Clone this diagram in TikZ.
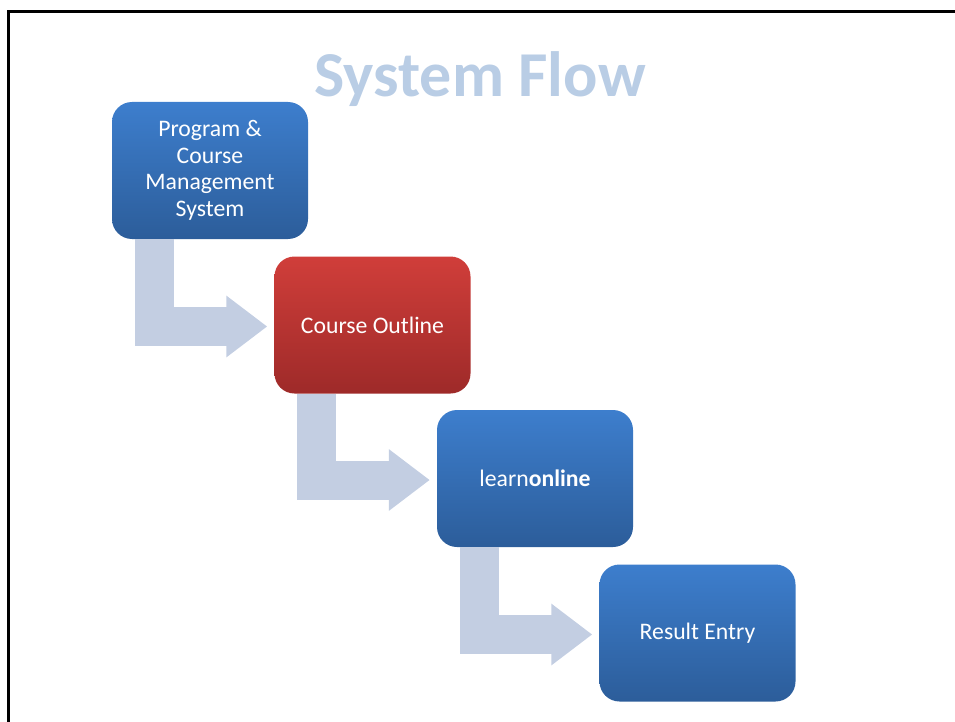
\documentclass[tikz,border=0pt]{standalone}
\usepackage{fontspec}
\setmainfont{Carlito}
\usetikzlibrary{arrows.meta,calc}
\definecolor{boxtop}{RGB}{61,126,205}
\definecolor{boxbot}{RGB}{44,93,154}
\definecolor{redtop}{RGB}{208,62,58}
\definecolor{redbot}{RGB}{158,42,41}
\definecolor{flowgray}{RGB}{195,206,226}
\definecolor{titleblue}{RGB}{185,205,229}
\begin{document}
\begin{tikzpicture}[x=1pt, y=-1pt,
  stage/.style={rectangle, rounded corners=20pt, minimum width=196pt, minimum height=137pt, inner sep=0pt, align=center, text=white, font=\fontsize{23.7}{26.5}\selectfont, top color=boxtop, bottom color=boxbot},
  hotstage/.style={stage, top color=redtop, bottom color=redbot},
  flow/.style={draw=flowgray, line width=39pt, -{Triangle[length=41pt, width=59pt]}}]
\useasboundingbox (0,0) rectangle (955,722);
\draw[line width=3pt] (8.5,722) -- (8.5,12) -- (955,12);
\node[anchor=base, text=titleblue, font=\fontsize{64}{72}\bfseries] (title) at (480,97){System Flow};
\node[stage] (pcms) at (210,170.5){Program \&\\Course\\Management\\System};
\node[hotstage] (outline) at (372.5,325){Course Outline};
\node[stage] (learn) at (535,478.5){learn\textbf{online}};
\node[stage] (result) at (697.5,633){Result Entry};
\draw[flow] ($(pcms.south west)+(42.5,0)$) |- ($(outline.west)+(-7,1.5)$);
\draw[flow] ($(outline.south west)+(42.5,0)$) |- ($(learn.west)+(-7,1.5)$);
\draw[flow] ($(learn.south west)+(42.5,0)$) |- ($(result.west)+(-7,1.5)$);
\end{tikzpicture}
\end{document}
